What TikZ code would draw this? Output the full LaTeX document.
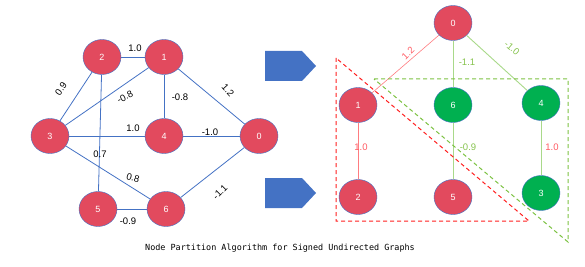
\documentclass[tikz,border=0pt]{standalone}
\usepackage{fontspec}
\setmainfont{Liberation Sans}
\newfontfamily\capfont{DejaVu Sans Mono}
\usetikzlibrary{shapes.geometric}
\definecolor{nred}{HTML}{E24A5E}
\definecolor{ngreen}{HTML}{00B050}
\definecolor{eblue}{HTML}{4472C4}
\definecolor{lred}{HTML}{FF7C80}
\definecolor{lgreen}{HTML}{A9D98A}
\definecolor{tred}{HTML}{FF5A62}
\definecolor{tgreen}{HTML}{86C34E}
\definecolor{dred}{HTML}{FF1F1F}
\definecolor{dgreen}{HTML}{7CC242}
\tikzset{
  gnode/.style={ellipse, draw=eblue, line width=0.4pt, minimum width=38pt, minimum height=35pt, inner sep=0pt, text=white, font=\fontsize{9}{10}\selectfont},
  rnode/.style={gnode, fill=nred},
  grnode/.style={gnode, fill=ngreen},
  bedge/.style={draw=eblue, line width=0.8pt},
  elab/.style={font=\fontsize{9.5}{10}\selectfont, inner sep=0pt},
  redge/.style={draw=lred, line width=0.6pt},
  gedge/.style={draw=lgreen, line width=0.9pt},
  arrowshape/.style={fill=eblue, draw=none},
  rdash/.style={draw=dred, dash pattern=on 4pt off 3pt, line width=1pt},
  gdash/.style={draw=dgreen, dash pattern=on 4pt off 3pt, line width=1pt}
}
\begin{document}
\begin{tikzpicture}[x=1pt, y=-1pt]
\useasboundingbox (0,0) rectangle (585,267);
% left graph
\node[rnode] (L2) at (102,57) {2};
\node[rnode] (L1) at (164,57) {1};
\node[rnode] (L3) at (50,136) {3};
\node[rnode] (L4) at (164,136) {4};
\node[rnode] (L0) at (259,136) {0};
\node[rnode] (L5) at (98,209) {5};
\node[rnode] (L6) at (166,209) {6};
\path[bedge] (L2) -- (L1);
\path[bedge] (L2) -- (L3);
\path[bedge] (L2) -- (L5);
\path[bedge] (L1) -- (L3);
\path[bedge] (L1) -- (L4);
\path[bedge] (L1) -- (L0);
\path[bedge] (L3) -- (L4);
\path[bedge] (L4) -- (L0);
\path[bedge] (L3) -- (L6);
\path[bedge] (L5) -- (L6);
\path[bedge] (L6) -- (L0);
\node[elab] (l21) at (135,48) {1.0};
\node[elab, rotate=55] (l23) at (61,89) {0.9};
\node[elab, rotate=27] (l13) at (125,97) {-0.8};
\node[elab] (l14) at (180,97) {-0.8};
\node[elab, rotate=-48] (l10) at (228,90) {1.2};
\node[elab] (l34) at (133,128) {1.0};
\node[elab] (l40) at (210,132) {-1.0};
\node[elab] (l25) at (100,154) {0.7};
\node[elab, rotate=-15] (l36) at (133,178) {0.8};
\node[elab, rotate=45] (l60) at (220,192) {-1.1};
\node[elab] (l56) at (128,221) {-0.9};
% arrows
\path[arrowshape] (265,51) -- (302,51) -- (316,66) -- (302,81) -- (265,81) -- cycle;
\path[arrowshape] (265,178) -- (302,178) -- (316,193) -- (302,208) -- (265,208) -- cycle;
% right graph
\node[rnode] (R0) at (453,23) {0};
\node[rnode] (R1) at (358,105) {1};
\node[grnode] (R6) at (453,105) {6};
\node[grnode] (R4) at (541,103) {4};
\node[rnode] (R2) at (358,197) {2};
\node[rnode] (R5) at (453,197) {5};
\node[grnode] (R3) at (541,193) {3};
\path[redge] (R0) -- (R1);
\path[gedge] (R0) -- (R6);
\path[gedge] (R0) -- (R4);
\path[redge] (R1) -- (R2);
\path[gedge] (R6) -- (R5);
\path[gedge] (R4) -- (R3);
\node[elab, text=tred, rotate=45] (r01) at (408,53) {1.2};
\node[elab, text=tgreen] (r06) at (467,62) {-1.1};
\node[elab, text=tgreen, rotate=-40] (r04) at (512,48) {-1.0};
\node[elab, text=tred] (r12) at (361,147) {1.0};
\node[elab, text=tgreen] (r65) at (468,147) {-0.9};
\node[elab, text=tred] (r43) at (552,147) {1.0};
% dashed partitions
\coordinate (ra) at (336,58);
\coordinate (rb) at (336,221);
\coordinate (rc) at (529,221);
\path[rdash] (ra) -- (rb) -- (rc) -- cycle;
\coordinate (ga) at (374,79);
\coordinate (gb) at (568,79);
\coordinate (gc) at (568,242);
\path[gdash] (ga) -- (gb) -- (gc) -- cycle;
% caption
\node[font=\capfont\fontsize{8.45}{10}\selectfont] (cap) at (280,248) {Node Partition Algorithm for Signed Undirected Graphs};
\end{tikzpicture}
\end{document}
